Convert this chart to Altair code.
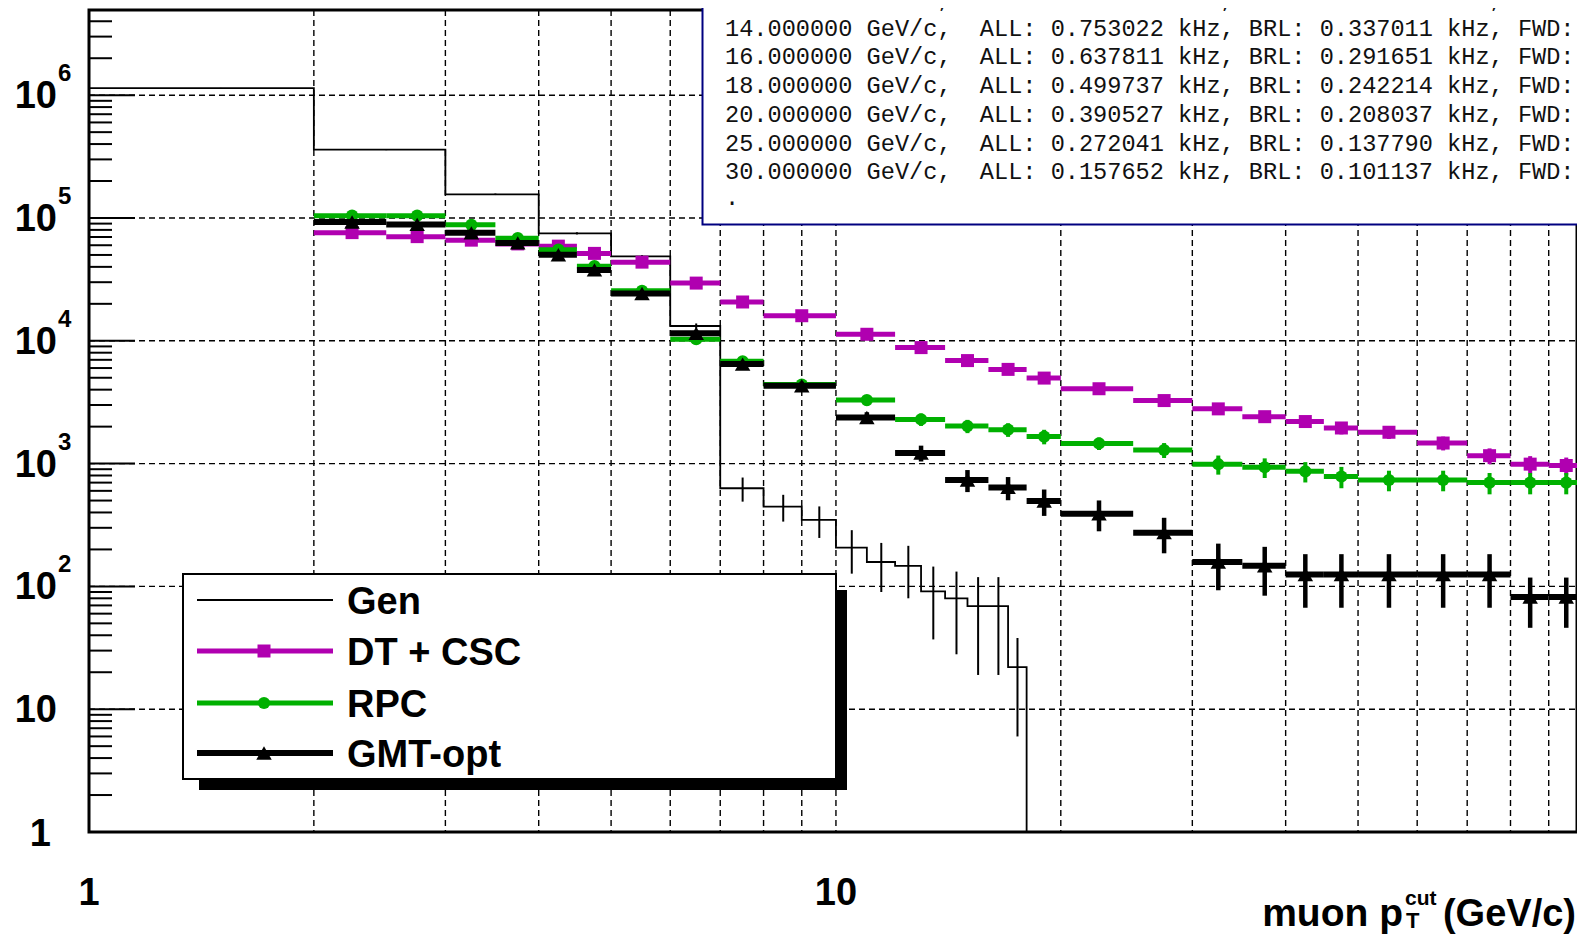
import altair as alt
import pandas as pd

# ---------------- data ----------------
bin_lo = [2, 2.5, 3, 3.5, 4, 4.5, 5, 6, 7, 8, 10, 12, 14, 16, 18, 20, 25, 30, 35, 40, 45, 50, 60, 70, 80, 90]
bin_hi = [2.5, 3, 3.5, 4, 4.5, 5, 6, 7, 8, 10, 12, 14, 16, 18, 20, 25, 30, 35, 40, 45, 50, 60, 70, 80, 90, 100]

dt_vals = [76000, 70500, 66000, 61500, 59000, 51500, 43700, 29500, 20700, 16000, 11300, 8800, 6900,
           5850, 4970, 4070, 3260, 2790, 2410, 2200, 1950, 1800, 1470, 1160, 990, 965]
dt_errs = [1370, 1320, 1270, 1230, 1200, 1130, 1040, 850, 710, 630, 530, 465, 410,
           380, 350, 315, 285, 260, 245, 230, 220, 210, 190, 170, 160, 155]

rpc_vals = [104500, 104500, 88000, 68500, 55200, 40500, 25500, 10300, 6800, 4400, 3290, 2290, 2020,
            1890, 1660, 1460, 1290, 988, 933, 865, 785, 735, 735, 700, 700, 700]
rpc_errs = [1800, 1800, 1650, 1460, 1310, 1120, 890, 570, 460, 370, 320, 265, 250,
            240, 225, 170, 180, 175, 170, 163, 155, 140, 140, 138, 138, 138]

gmt_vals = [92700, 88700, 75700, 62700, 50200, 37800, 24300, 11500, 6460, 4300, 2370, 1220, 736,
            640, 495, 391, 274, 158, 147, 125, 125, 125, 125, 125, 82, 82]
gmt_errs = [1600, 1550, 1430, 1300, 1160, 1010, 810, 560, 420, 340, 250, 180, 150,
            137, 120, 110, 88, 65, 63, 58, 58, 58, 58, 58, 36, 36]

gen_lo = [1, 2, 3, 4, 5, 6, 7, 8, 9, 10, 11, 12, 13, 14, 15, 16, 17]
gen_hi = [2, 3, 4, 5, 6, 7, 8, 9, 10, 11, 12, 13, 14, 15, 16, 17, 18]
gen_vals = [1140000, 360000, 156000, 75000, 48600, 13200, 630, 447, 348, 207, 158, 147, 91, 80, 69, 69, 22]
gen_errs = [6000, 3300, 2200, 1500, 1200, 640, 140, 110, 100, 80, 68, 67, 54, 52, 50, 50, 16]

x_grid_vals = [2, 3, 4, 5, 6, 7, 8, 9, 10, 20, 30, 40, 50, 60, 70, 80, 90]
x_label_vals = [1, 10]
x_label_text = ["1", "10"]
y_decades = [10, 100, 1000, 10000, 100000, 1000000]
y_exponents = ["", "2", "3", "4", "5", "6"]
y_minor = [m * 10 ** k for k in range(0, 7) for m in range(2, 10) if m * 10 ** k < 4.9e6]

legend_labels = ["Gen", "DT + CSC", "RPC", "GMT-opt"]

stats_lines = [
    "12.000000 GeV/c,  ALL: 1.241332 kHz, BRL: 0.471248 kHz, FWD:",
    "14.000000 GeV/c,  ALL: 0.753022 kHz, BRL: 0.337011 kHz, FWD:",
    "16.000000 GeV/c,  ALL: 0.637811 kHz, BRL: 0.291651 kHz, FWD:",
    "18.000000 GeV/c,  ALL: 0.499737 kHz, BRL: 0.242214 kHz, FWD:",
    "20.000000 GeV/c,  ALL: 0.390527 kHz, BRL: 0.208037 kHz, FWD:",
    "25.000000 GeV/c,  ALL: 0.272041 kHz, BRL: 0.137790 kHz, FWD:",
    "30.000000 GeV/c,  ALL: 0.157652 kHz, BRL: 0.101137 kHz, FWD:",
]
stats_tail = "."

# ---------------- layout / style ----------------
W, H = 1488, 822
XDOM = [1, 98.2]
YDOM = [1, 4.94e6]
SANS = "Liberation Sans, Arial, Helvetica, sans-serif"
MONO = "Liberation Mono, Courier New, monospace"
MAGENTA = "#b000b0"
GREEN = "#00b000"
NAVY = "#000080"
FS = 38

xs = alt.Scale(type="log", domain=XDOM, nice=False)
ys = alt.Scale(type="log", domain=YDOM, nice=False)

one = pd.DataFrame({"d": [0]})


def X(f):
    return alt.X(f, type="quantitative", scale=xs, axis=None)


def Y(f):
    return alt.Y(f, type="quantitative", scale=ys, axis=None)


layers = []

# grid
layers.append(alt.Chart(pd.DataFrame({"v": x_grid_vals})).mark_rule(
    color="black", strokeWidth=1.4, strokeDash=[6, 4]).encode(
    x=X("v"), y=alt.value(0), y2=alt.value(H)))
layers.append(alt.Chart(pd.DataFrame({"v": y_decades})).mark_rule(
    color="black", strokeWidth=1.4, strokeDash=[6, 4]).encode(
    y=Y("v"), x=alt.value(0), x2=alt.value(W)))

# y ticks (inside)
layers.append(alt.Chart(pd.DataFrame({"v": y_minor})).mark_rule(
    color="black", strokeWidth=2).encode(y=Y("v"), x=alt.value(0), x2=alt.value(23)))
layers.append(alt.Chart(pd.DataFrame({"v": y_decades})).mark_rule(
    color="black", strokeWidth=2).encode(y=Y("v"), x=alt.value(0), x2=alt.value(46)))

# Gen histogram (step line + error bars)
step_rows = []
for i, (lo, hi, v) in enumerate(zip(gen_lo, gen_hi, gen_vals)):
    step_rows.append({"x": lo, "y": v, "i": 2 * i})
    step_rows.append({"x": hi, "y": v, "i": 2 * i + 1})
step_rows.append({"x": gen_hi[-1], "y": YDOM[0], "i": 2 * len(gen_vals)})
layers.append(alt.Chart(pd.DataFrame(step_rows)).mark_line(
    color="black", strokeWidth=1.8, interpolate="linear").encode(
    x=X("x"), y=Y("y"), order=alt.Order("i:Q")))

gen_df = pd.DataFrame({"lo": gen_lo, "hi": gen_hi, "val": gen_vals, "err": gen_errs})
layers.append(alt.Chart(gen_df).transform_calculate(
    ctr="(datum.lo + datum.hi) / 2", lower="datum.val - datum.err", upper="datum.val + datum.err"
).mark_rule(color="black", strokeWidth=2).encode(x=X("ctr"), y=Y("lower"), y2="upper:Q"))


def series(vals, errs, color, shape, size, lw, ew):
    df = pd.DataFrame({"lo": bin_lo, "hi": bin_hi, "val": vals, "err": errs})
    base = alt.Chart(df).transform_calculate(
        ctr="(datum.lo + datum.hi) / 2",
        lower="datum.val - datum.err",
        upper="datum.val + datum.err")
    return [
        base.mark_rule(color=color, strokeWidth=lw).encode(x=X("lo"), x2="hi:Q", y=Y("val")),
        base.mark_rule(color=color, strokeWidth=ew).encode(x=X("ctr"), y=Y("lower"), y2="upper:Q"),
        base.mark_point(shape=shape, size=size, filled=True, color=color, opacity=1).encode(
            x=X("ctr"), y=Y("val")),
    ]


layers += series(dt_vals, dt_errs, MAGENTA, "square", 169, 5, 4)
layers += series(rpc_vals, rpc_errs, GREEN, "circle", 150, 5, 4)
layers += series(gmt_vals, gmt_errs, "black", "triangle-up", 240, 6, 4.5)

# legend
layers.append(alt.Chart(one).mark_rect(color="black").encode(
    x=alt.value(110), x2=alt.value(758), y=alt.value(580), y2=alt.value(780)))
layers.append(alt.Chart(one).mark_rect(fill="white", stroke="black", strokeWidth=2).encode(
    x=alt.value(94), x2=alt.value(747), y=alt.value(564), y2=alt.value(769)))
legend_style = [("black", None, 2, 0), (MAGENTA, "square", 5, 169),
                (GREEN, "circle", 5, 150), ("black", "triangle-up", 6, 240)]
legend_y = [590, 641, 693, 743]
for lab, (col, shp, lw, sz), ry in zip(legend_labels, legend_style, legend_y):
    layers.append(alt.Chart(one).mark_rule(color=col, strokeWidth=lw).encode(
        x=alt.value(108), x2=alt.value(244), y=alt.value(ry)))
    if shp:
        layers.append(alt.Chart(one).mark_point(shape=shp, size=sz, filled=True, color=col, opacity=1).encode(
            x=alt.value(175), y=alt.value(ry)))
    layers.append(alt.Chart(one).mark_text(
        text=lab, align="left", baseline="alphabetic", font=SANS, fontWeight="bold",
        fontSize=FS, color="black").encode(x=alt.value(258), y=alt.value(ry + 13.5)))

# statistics box (partly outside the view, as in the reference)
layers.append(alt.Chart(one).mark_rect(fill="white", stroke=NAVY, strokeWidth=2).encode(
    x=alt.value(613.5), x2=alt.value(W + 120), y=alt.value(-40), y2=alt.value(214.4)))
stats_text = [s.replace("  ", " \u00a0") for s in stats_lines]
layers.append(alt.Chart(one).mark_text(
    text=stats_text, align="left", baseline="alphabetic", font=MONO, fontSize=23.6,
    lineHeight=28.7, color="#111111").encode(x=alt.value(636), y=alt.value(-2.9)))
layers.append(alt.Chart(one).mark_text(
    text=stats_tail, align="left", baseline="alphabetic", font=MONO, fontSize=23.6,
    color="#111111").encode(x=alt.value(636), y=alt.value(195)))

# y tick labels
ylab = pd.DataFrame({"v": y_decades, "e": y_exponents})
layers.append(alt.Chart(ylab).mark_text(
    text="10", align="right", baseline="middle", font=SANS, fontWeight="bold", fontSize=FS,
    dy=2, color="black").encode(x=alt.value(-32), y=Y("v")))
layers.append(alt.Chart(ylab).mark_text(
    align="left", baseline="middle", font=SANS, fontWeight="bold", fontSize=24,
    dy=-21, color="black").encode(x=alt.value(-31), y=Y("v"), text="e:N"))
layers.append(alt.Chart(pd.DataFrame({"v": [1]})).mark_text(
    text="1", align="right", baseline="middle", font=SANS, fontWeight="bold", fontSize=FS,
    dy=3, color="black").encode(x=alt.value(-38), y=Y("v")))

# x tick labels
layers.append(alt.Chart(pd.DataFrame({"v": x_label_vals, "t": x_label_text})).mark_text(
    align="center", baseline="middle", font=SANS, fontWeight="bold", fontSize=FS,
    color="black").encode(x=X("v"), y=alt.value(H + 62), text="t:N"))

# x axis title: muon p_T^cut (GeV/c)
title_parts = [("muon p", 1314, 916, 39, "right"), ("T", 1317, 918, 22, "left"),
               ("cut", 1316, 895, 21, "left"), ("(GeV/c)", 1487, 916, 38, "right")]
for t, tx, ty, fs, al in title_parts:
    layers.append(alt.Chart(one).mark_text(
        text=t, align=al, baseline="alphabetic", font=SANS, fontWeight="bold", fontSize=fs,
        color="black").encode(x=alt.value(tx), y=alt.value(ty)))

chart = alt.layer(*layers).properties(
    width=W, height=H,
    padding={"left": 81, "top": 2, "right": 0, "bottom": 104},
    autosize=alt.AutoSizeParams(type="none"),
).configure_view(stroke="black", strokeWidth=3)

chart.save("out.html", embed_options={"renderer": "svg", "actions": False})
